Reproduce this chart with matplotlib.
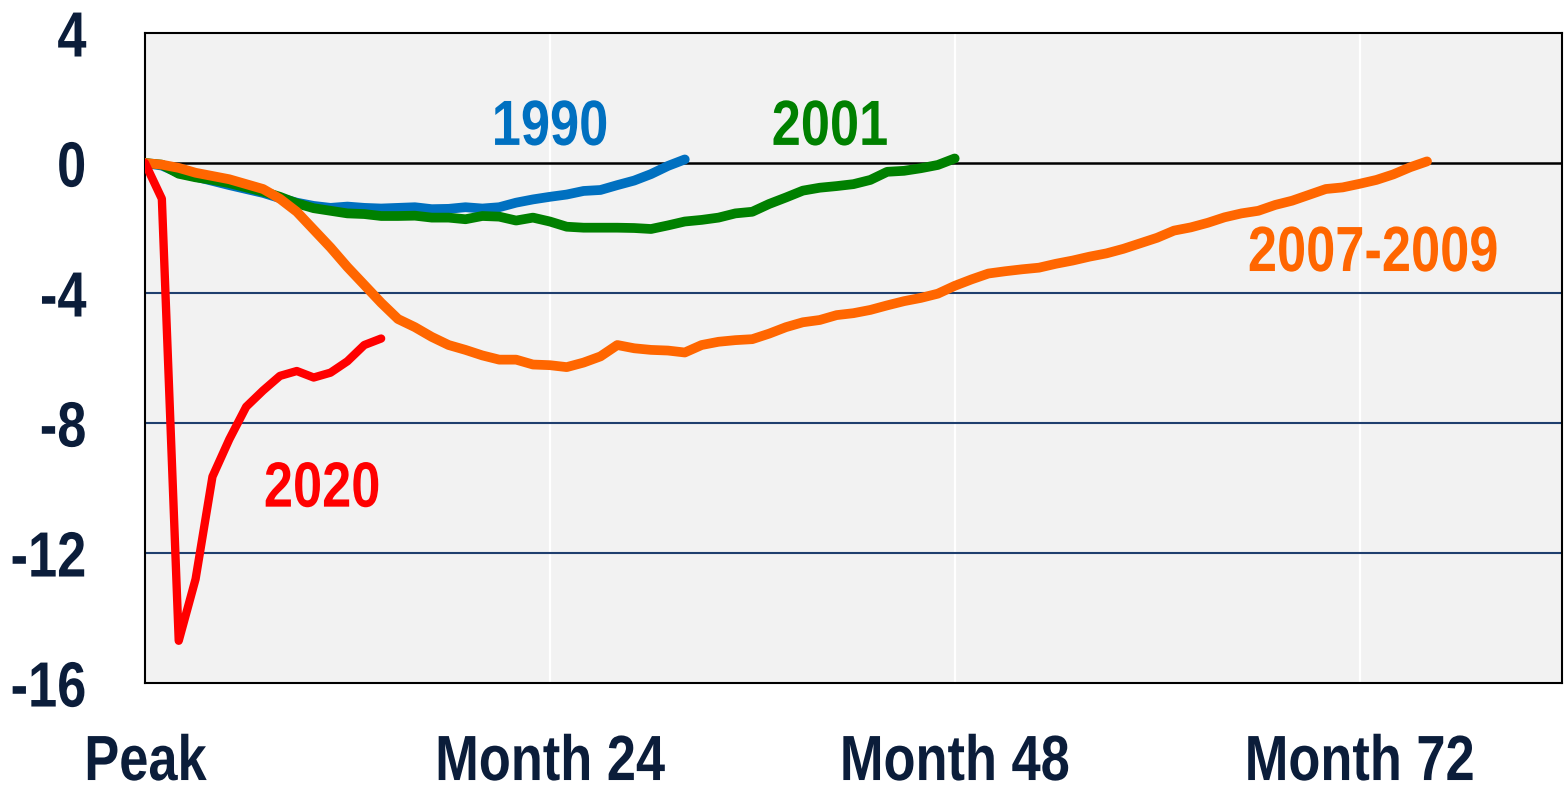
import matplotlib
matplotlib.use("Agg")
import matplotlib.pyplot as plt
from matplotlib.patheffects import AbstractPathEffect
from matplotlib.transforms import Affine2D
import numpy as np

# payroll employment, % change from peak, by months since the peak
emp_1990 = [0, -0.08, -0.3, -0.42, -0.55, -0.68, -0.8, -0.92, -1.08, -1.22,
            -1.32, -1.38, -1.34, -1.38, -1.4, -1.38, -1.36, -1.42, -1.41, -1.36,
            -1.4, -1.36, -1.22, -1.12, -1.04, -0.97, -0.86, -0.83, -0.68, -0.54,
            -0.34, -0.09, 0.11]
emp_2001 = [0, -0.05, -0.33, -0.44, -0.52, -0.62, -0.75, -0.88, -1.04, -1.24,
            -1.39, -1.47, -1.55, -1.57, -1.63, -1.63, -1.62, -1.68, -1.68, -1.73,
            -1.63, -1.65, -1.77, -1.68, -1.8, -1.96, -1.99, -1.99, -1.99, -2.0,
            -2.03, -1.92, -1.8, -1.75, -1.68, -1.55, -1.5, -1.26, -1.06, -0.85,
            -0.76, -0.71, -0.65, -0.52, -0.27, -0.24, -0.16, -0.06, 0.14]
emp_2007 = [0, -0.05, -0.15, -0.3, -0.4, -0.5, -0.65, -0.8, -1.1, -1.5,
            -2.05, -2.6, -3.2, -3.75, -4.3, -4.8, -5.05, -5.35, -5.6, -5.75,
            -5.92, -6.05, -6.05, -6.2, -6.22, -6.28, -6.14, -5.95, -5.6, -5.7,
            -5.75, -5.77, -5.83, -5.6, -5.5, -5.45, -5.42, -5.25, -5.05, -4.9,
            -4.83, -4.68, -4.62, -4.52, -4.38, -4.25, -4.15, -4.02, -3.78, -3.58,
            -3.4, -3.33, -3.27, -3.22, -3.1, -3.0, -2.88, -2.78, -2.64, -2.47,
            -2.3, -2.08, -1.98, -1.84, -1.67, -1.55, -1.47, -1.29, -1.16, -0.98,
            -0.8, -0.75, -0.64, -0.52, -0.35, -0.13, 0.05]
emp_2020 = [0, -1.1, -14.7, -12.8, -9.65, -8.5, -7.5, -7.0, -6.55, -6.4,
            -6.6, -6.45, -6.1, -5.6, -5.4]

series = [
    ("1990", emp_1990, "#0070C0", (24, 1.08)),
    ("2001", emp_2001, "#008000", (40.6, 1.08)),
    ("2007-2009", emp_2007, "#FF6600", (72.8, -2.8)),
    ("2020", emp_2020, "#FF0000", (10.5, -10.05)),
]

xticks = [0, 24, 48, 72]
xtick_labels = ["Peak", "Month 24", "Month 48", "Month 72"]
yticks = [-16, -12, -8, -4, 0, 4]


class Narrow(AbstractPathEffect):
    """squeeze glyphs horizontally to mimic a narrow bold face"""

    def __init__(self, sx=0.82, anchor="center"):
        super().__init__()
        self.sx = sx
        self.anchor = anchor

    def draw_path(self, renderer, gc, tpath, affine, rgbFace=None):
        ext = tpath.get_extents()
        if self.anchor == "right":
            cx = ext.x1
        elif self.anchor == "left":
            cx = ext.x0
        else:
            cx = (ext.x0 + ext.x1) / 2
        t = Affine2D().translate(-cx, 0).scale(self.sx, 1).translate(cx, 0) + affine
        renderer.draw_path(gc, tpath, t, rgbFace)


plt.rcParams['font.family'] = ['Liberation Sans', 'DejaVu Sans']
text_color = "#0B1D3A"

fig = plt.figure(figsize=(15.64, 7.86), dpi=100)
ax = fig.add_axes([0.0927, 0.131, 0.906, 0.827])
ax.set_facecolor("#F2F2F2")

for x in xticks[1:]:
    ax.axvline(x, color="white", lw=1.6, zorder=1)
for y in [-12, -8, -4]:
    ax.axhline(y, color="#1F3F6E", lw=1.5, zorder=1)
ax.axhline(0, color="black", lw=1.8, zorder=2)

for i, (name, vals, color, (lx, ly)) in enumerate(series):
    months = np.arange(len(vals))
    lw = 6 if name == "2020" else 7
    ax.plot(months, vals, color=color, lw=lw, solid_capstyle="round",
            solid_joinstyle="round", zorder=3 + i)
    ax.text(lx, ly, name, color=color, fontsize=46, fontweight="bold",
            ha="center", va="center", zorder=10,
            path_effects=[Narrow(0.82, "center")])

ax.set_xlim(0, 84)
ax.set_ylim(-16, 4)
ax.set_xticks(xticks)
ax.set_xticklabels(xtick_labels)
ax.set_yticks(yticks)
ax.set_yticklabels([str(v) for v in yticks])
ax.tick_params(length=0, labelsize=46, labelcolor=text_color)
ax.tick_params(axis="x", pad=36)
ax.tick_params(axis="y", pad=42)
for lab in ax.get_xticklabels():
    lab.set_fontweight("bold")
    lab.set_path_effects([Narrow(0.82, "center")])
for lab in ax.get_yticklabels():
    lab.set_fontweight("bold")
    lab.set_path_effects([Narrow(0.82, "right")])
for sp in ax.spines.values():
    sp.set_color("black")
    sp.set_linewidth(1.5)

fig.savefig("out.png", dpi=100, facecolor="white")
